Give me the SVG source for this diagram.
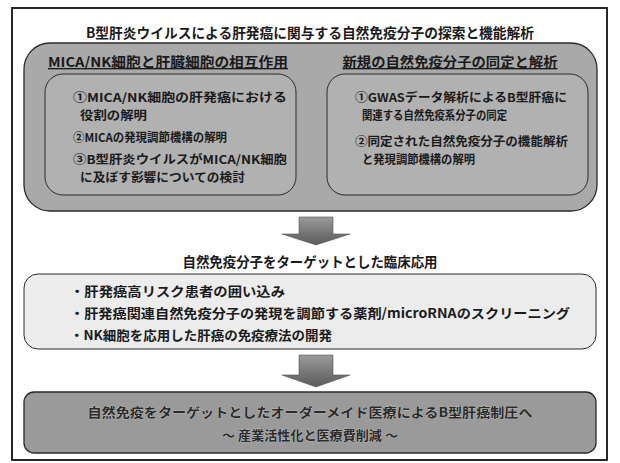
<svg xmlns="http://www.w3.org/2000/svg" width="620" height="463" viewBox="0 0 620 463">
<defs>
<linearGradient id="arrowGrad" x1="0" y1="0" x2="0" y2="1">
<stop offset="0" stop-color="#9a9a9a"/>
<stop offset="1" stop-color="#5a5a5a"/>
</linearGradient>
<style>
text{font-family:"Noto Sans CJK JP","Noto Sans",sans-serif;font-weight:bold;fill:#1a1a1a}
.title{font-size:14px}
.hdr{font-size:13.5px;text-decoration:underline}
.item{font-size:12px}
.bul{font-size:13px}
.panel{fill:#a9a9a9;stroke:#2a2a2a;stroke-width:1.3}
.inner{fill:#b1b1b1;stroke:#2a2a2a;stroke-width:1}
.light{fill:#ececec;stroke:#2a2a2a;stroke-width:1}
.dark{fill:#9a9a9a;stroke:#2a2a2a;stroke-width:1.3}
.arrow{fill:url(#arrowGrad);stroke:#555;stroke-width:0.6}
.goal{font-size:13px;fill:#2a2a2a;stroke:#cfcfcf;stroke-width:0.6;paint-order:stroke}
</style>
</defs>
<rect x="0" y="0" width="620" height="463" fill="#ffffff"/>
<g id="frame">
<rect x="12" y="8" width="595" height="452" fill="#ffffff" stroke="#111" stroke-width="1.8"/>
</g>
<g id="title">
<text class="title" x="310" y="38" text-anchor="middle" textLength="448" lengthAdjust="spacingAndGlyphs">B型肝炎ウイルスによる肝発癌に関与する自然免疫分子の探索と機能解析</text>
</g>
<g id="research-panel">
<rect class="panel" x="24" y="43" width="573" height="168" rx="26" ry="26"/>
</g>
<g id="mica-nk">
<text class="hdr" x="168" y="67" text-anchor="middle" textLength="240" lengthAdjust="spacingAndGlyphs">MICA/NK細胞と肝臓細胞の相互作用</text>
<rect class="inner" x="45" y="74" width="251" height="121" rx="18" ry="18"/>
<text class="item" x="73" y="102" textLength="214" lengthAdjust="spacingAndGlyphs">①MICA/NK細胞の肝発癌における</text>
<text class="item" x="80" y="120" textLength="67" lengthAdjust="spacingAndGlyphs">役割の解明</text>
<text class="item" x="73" y="142" textLength="154" lengthAdjust="spacingAndGlyphs">②MICAの発現調節機構の解明</text>
<text class="item" x="73" y="164" textLength="214" lengthAdjust="spacingAndGlyphs">③B型肝炎ウイルスがMICA/NK細胞</text>
<text class="item" x="80" y="182" textLength="165" lengthAdjust="spacingAndGlyphs">に及ぼす影響についての検討</text>
</g>
<g id="new-molecules">
<text class="hdr" x="450" y="67" text-anchor="middle" textLength="215" lengthAdjust="spacingAndGlyphs">新規の自然免疫分子の同定と解析</text>
<rect class="inner" x="327" y="74" width="261" height="121" rx="18" ry="18"/>
<text class="item" x="355" y="102" textLength="212" lengthAdjust="spacingAndGlyphs">①GWASデータ解析によるB型肝癌に</text>
<text class="item" x="362" y="120" textLength="145" lengthAdjust="spacingAndGlyphs">関連する自然免疫系分子の同定</text>
<text class="item" x="355" y="146" textLength="213" lengthAdjust="spacingAndGlyphs">②同定された自然免疫分子の機能解析</text>
<text class="item" x="362" y="164" textLength="113" lengthAdjust="spacingAndGlyphs">と発現調節機構の解明</text>
</g>
<g id="connectors">
<path class="arrow" d="M299 217 H333 V234 H350 L316 245 L282 234 H299 Z"/>
<path class="arrow" d="M299 355 H333 V375 H350 L316 387 L282 375 H299 Z"/>
</g>
<g id="clinical">
<text class="title" x="310" y="267" text-anchor="middle" textLength="255" lengthAdjust="spacingAndGlyphs">自然免疫分子をターゲットとした臨床応用</text>
<rect class="light" x="24" y="274" width="572" height="75" rx="14" ry="14"/>
<text class="bul" x="70" y="296" textLength="215" lengthAdjust="spacingAndGlyphs">・肝発癌高リスク患者の囲い込み</text>
<text class="bul" x="70" y="318" textLength="500" lengthAdjust="spacingAndGlyphs">・肝発癌関連自然免疫分子の発現を調節する薬剤/microRNAのスクリーニング</text>
<text class="bul" x="70" y="340" textLength="262" lengthAdjust="spacingAndGlyphs">・NK細胞を応用した肝癌の免疫療法の開発</text>
</g>
<g id="goal">
<rect class="dark" x="24" y="392" width="572" height="61" rx="10" ry="10"/>
<text class="goal" x="310" y="417" text-anchor="middle" textLength="445" lengthAdjust="spacingAndGlyphs">自然免疫をターゲットとしたオーダーメイド医療によるB型肝癌制圧へ</text>
<text class="goal" x="310" y="440" text-anchor="middle" textLength="176" lengthAdjust="spacingAndGlyphs">～ 産業活性化と医療費削減 ～</text>
</g>
</svg>
